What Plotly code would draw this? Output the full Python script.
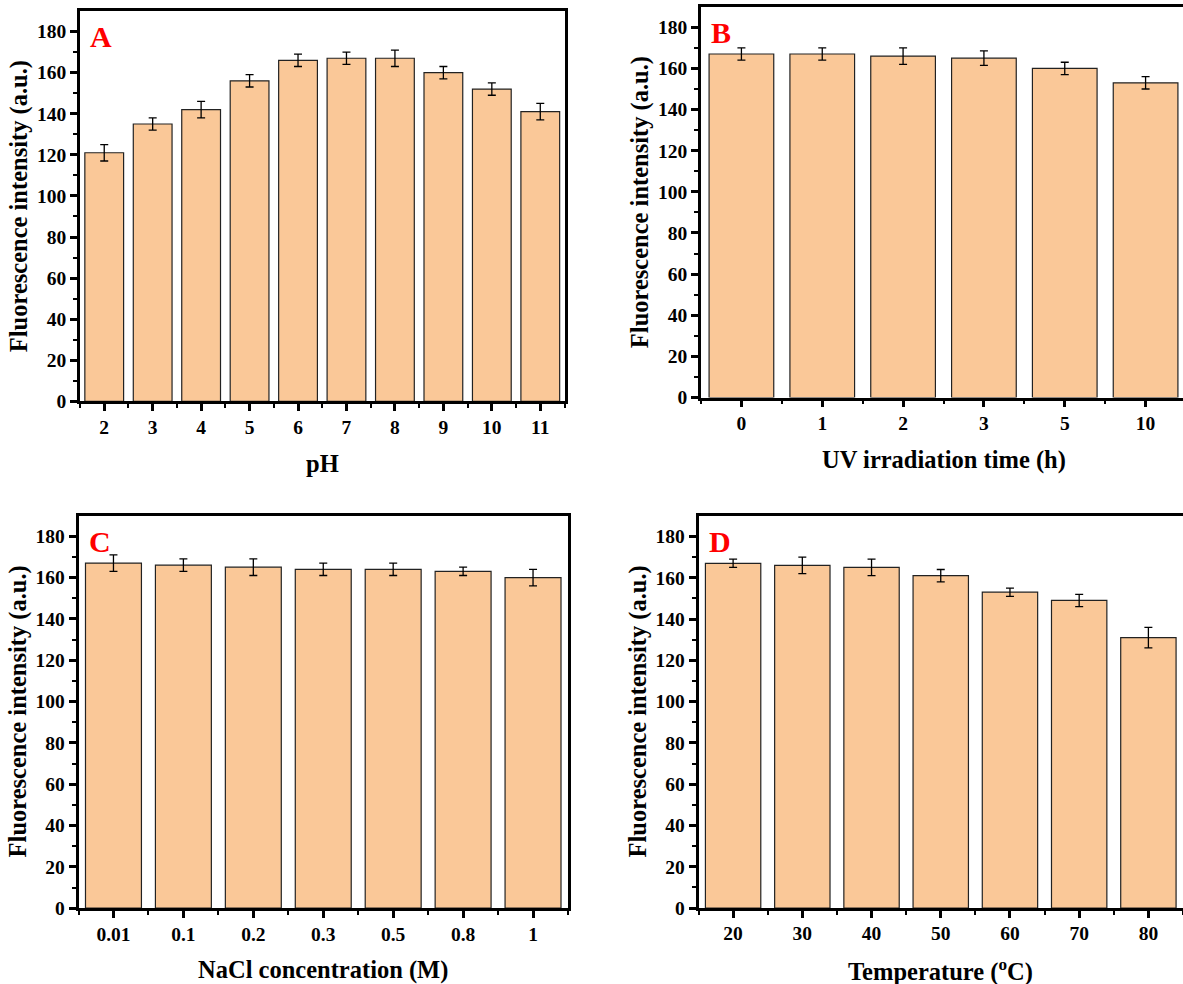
import plotly.graph_objects as go

# ---------------- data ----------------
ph_labels = ["2", "3", "4", "5", "6", "7", "8", "9", "10", "11"]
ph_values = [121, 135, 142, 156, 166, 167, 167, 160, 152, 141]
ph_errors = [4, 3, 4, 3, 3, 3, 4, 3, 3, 4]

uv_labels = ["0", "1", "2", "3", "5", "10"]
uv_values = [167, 167, 166, 165, 160, 153]
uv_errors = [3, 3, 4, 3.5, 3, 3]

nacl_labels = ["0.01", "0.1", "0.2", "0.3", "0.5", "0.8", "1"]
nacl_values = [167, 166, 165, 164, 164, 163, 160]
nacl_errors = [4, 3, 4, 3, 3, 2, 4]

temp_labels = ["20", "30", "40", "50", "60", "70", "80"]
temp_values = [167, 166, 165, 161, 153, 149, 131]
temp_errors = [2, 4, 4, 3, 2, 3, 5]

y_ticks = [0, 20, 40, 60, 80, 100, 120, 140, 160, 180]

# ---------------- style ----------------
W, H = 1183, 984
SY = 1.011  # vertical compensation
FONT = "Liberation Serif"
BAR_COLOR = "#FAC898"

panels = [
    # letter, labels, values, errors, xtitle, domain x(px), domain y(px top,bottom), overhang px, y mirror
    ("A", ph_labels, ph_values, ph_errors, "pH", (80, 564.5), (11, 401.5), None, True),
    ("B", uv_labels, uv_values, uv_errors, "UV irradiation time (h)", (701, 1183), (6.7, 397.7), 3, False),
    ("C", nacl_labels, nacl_values, nacl_errors, "NaCl concentration (M)", (78.5, 568), (515.7, 908.5), None, True),
    ("D", temp_labels, temp_values, temp_errors, "Temperature (<sup>o</sup>C)", (698.5, 1183), (516, 908.3), 0, False),
]

def py(v):
    return 1 - (v * SY) / H

fig = go.Figure()
annotations = []

for i, (letter, labels, vals, errs, xtitle, (x0, x1), (yt, yb), over, ymirror) in enumerate(panels):
    n = len(labels)
    xs = list(range(n))
    k = "" if i == 0 else str(i + 1)
    fig.add_trace(go.Bar(
        x=xs, y=vals, width=0.8,
        marker=dict(color=BAR_COLOR, line=dict(color="#222222", width=1.2)),
        error_y=dict(type="data", array=errs, color="black", thickness=1.3, width=4),
        xaxis="x" + k, yaxis="y" + k, showlegend=False, hoverinfo="skip",
    ))
    px_w = x1 - x0
    if over is None:
        xr = [-0.5, n - 0.5]
    else:
        unit = (px_w + over) / n
        xr = [-0.5, n - 0.5 - over / unit]
    dom_x = [x0 / W, x1 / W]
    dom_y = [py(yb), py(yt)]
    fig.update_layout(**{
        "xaxis" + k: dict(
            domain=dom_x, range=xr, anchor="y" + k,
            tickmode="array", tickvals=xs, ticktext=labels,
            ticks="outside", ticklen=7, tickwidth=2.5, tickcolor="black",
            ticklabelstandoff=-1,
            showline=True, linewidth=2.8, linecolor="black", mirror=True,
            showgrid=False, zeroline=False,
            tickfont=dict(family=FONT, size=19.5, color="black", weight="bold"),
            minor=dict(tickmode="array", tickvals=[j + 0.5 for j in range(-1, n)],
                       ticks="outside", ticklen=4, tickwidth=2, tickcolor="black", showgrid=False),
        ),
        "yaxis" + k: dict(
            domain=dom_y, range=[0, 190], anchor="x" + k,
            tickmode="array", tickvals=y_ticks,
            ticks="outside", ticklen=7, tickwidth=2.5, tickcolor="black",
            ticklabelstandoff=0,
            showline=True, linewidth=2.8, linecolor="black", mirror=ymirror,
            showgrid=False, zeroline=False,
            tickfont=dict(family=FONT, size=19.5, color="black", weight="bold"),
            minor=dict(tickmode="array", tickvals=[j * 10 + 10 for j in range(0, 18, 2)],
                       ticks="outside", ticklen=4, tickwidth=2, tickcolor="black", showgrid=False),
        ),
    })
    cx = (x0 + min(x1 + (over or 0), 1186)) / 2
    # x-axis title
    annotations.append(dict(
        text="<b>" + xtitle + "</b>", xref="paper", yref="paper",
        x=cx / W, y=py(yb + 62), xanchor="center", yanchor="middle",
        showarrow=False, font=dict(family=FONT, size=24.5, color="black"),
    ))
    # y-axis title
    annotations.append(dict(
        text="<b>Fluorescence intensity (a.u.)</b>", xref="paper", yref="paper",
        x=(x0 - 61) / W, y=py((yt + yb) / 2), xanchor="center", yanchor="middle",
        textangle=-90, showarrow=False, font=dict(family=FONT, size=24.5, color="black"),
    ))
    # panel letter
    annotations.append(dict(
        text="<b>" + letter + "</b>", xref="paper", yref="paper",
        x=(x0 + 8) / W, y=py(yt + 26), xanchor="left", yanchor="middle",
        showarrow=False, font=dict(family=FONT, size=30, color="#FF0000"),
    ))

fig.update_layout(
    width=W, height=H,
    margin=dict(l=0, r=0, t=0, b=0),
    paper_bgcolor="white", plot_bgcolor="white",
    annotations=annotations,
    bargap=0.2,
)

post = (
    "var d=document.documentElement,b=document.body;"
    "d.style.margin='0';d.style.padding='0';d.style.overflow='hidden';d.style.height='984px';"
    "b.style.margin='0';b.style.padding='0';b.style.overflow='hidden';b.style.height='984px';"
)
fig.write_html("out.html", post_script=post, config={"displayModeBar": False})
